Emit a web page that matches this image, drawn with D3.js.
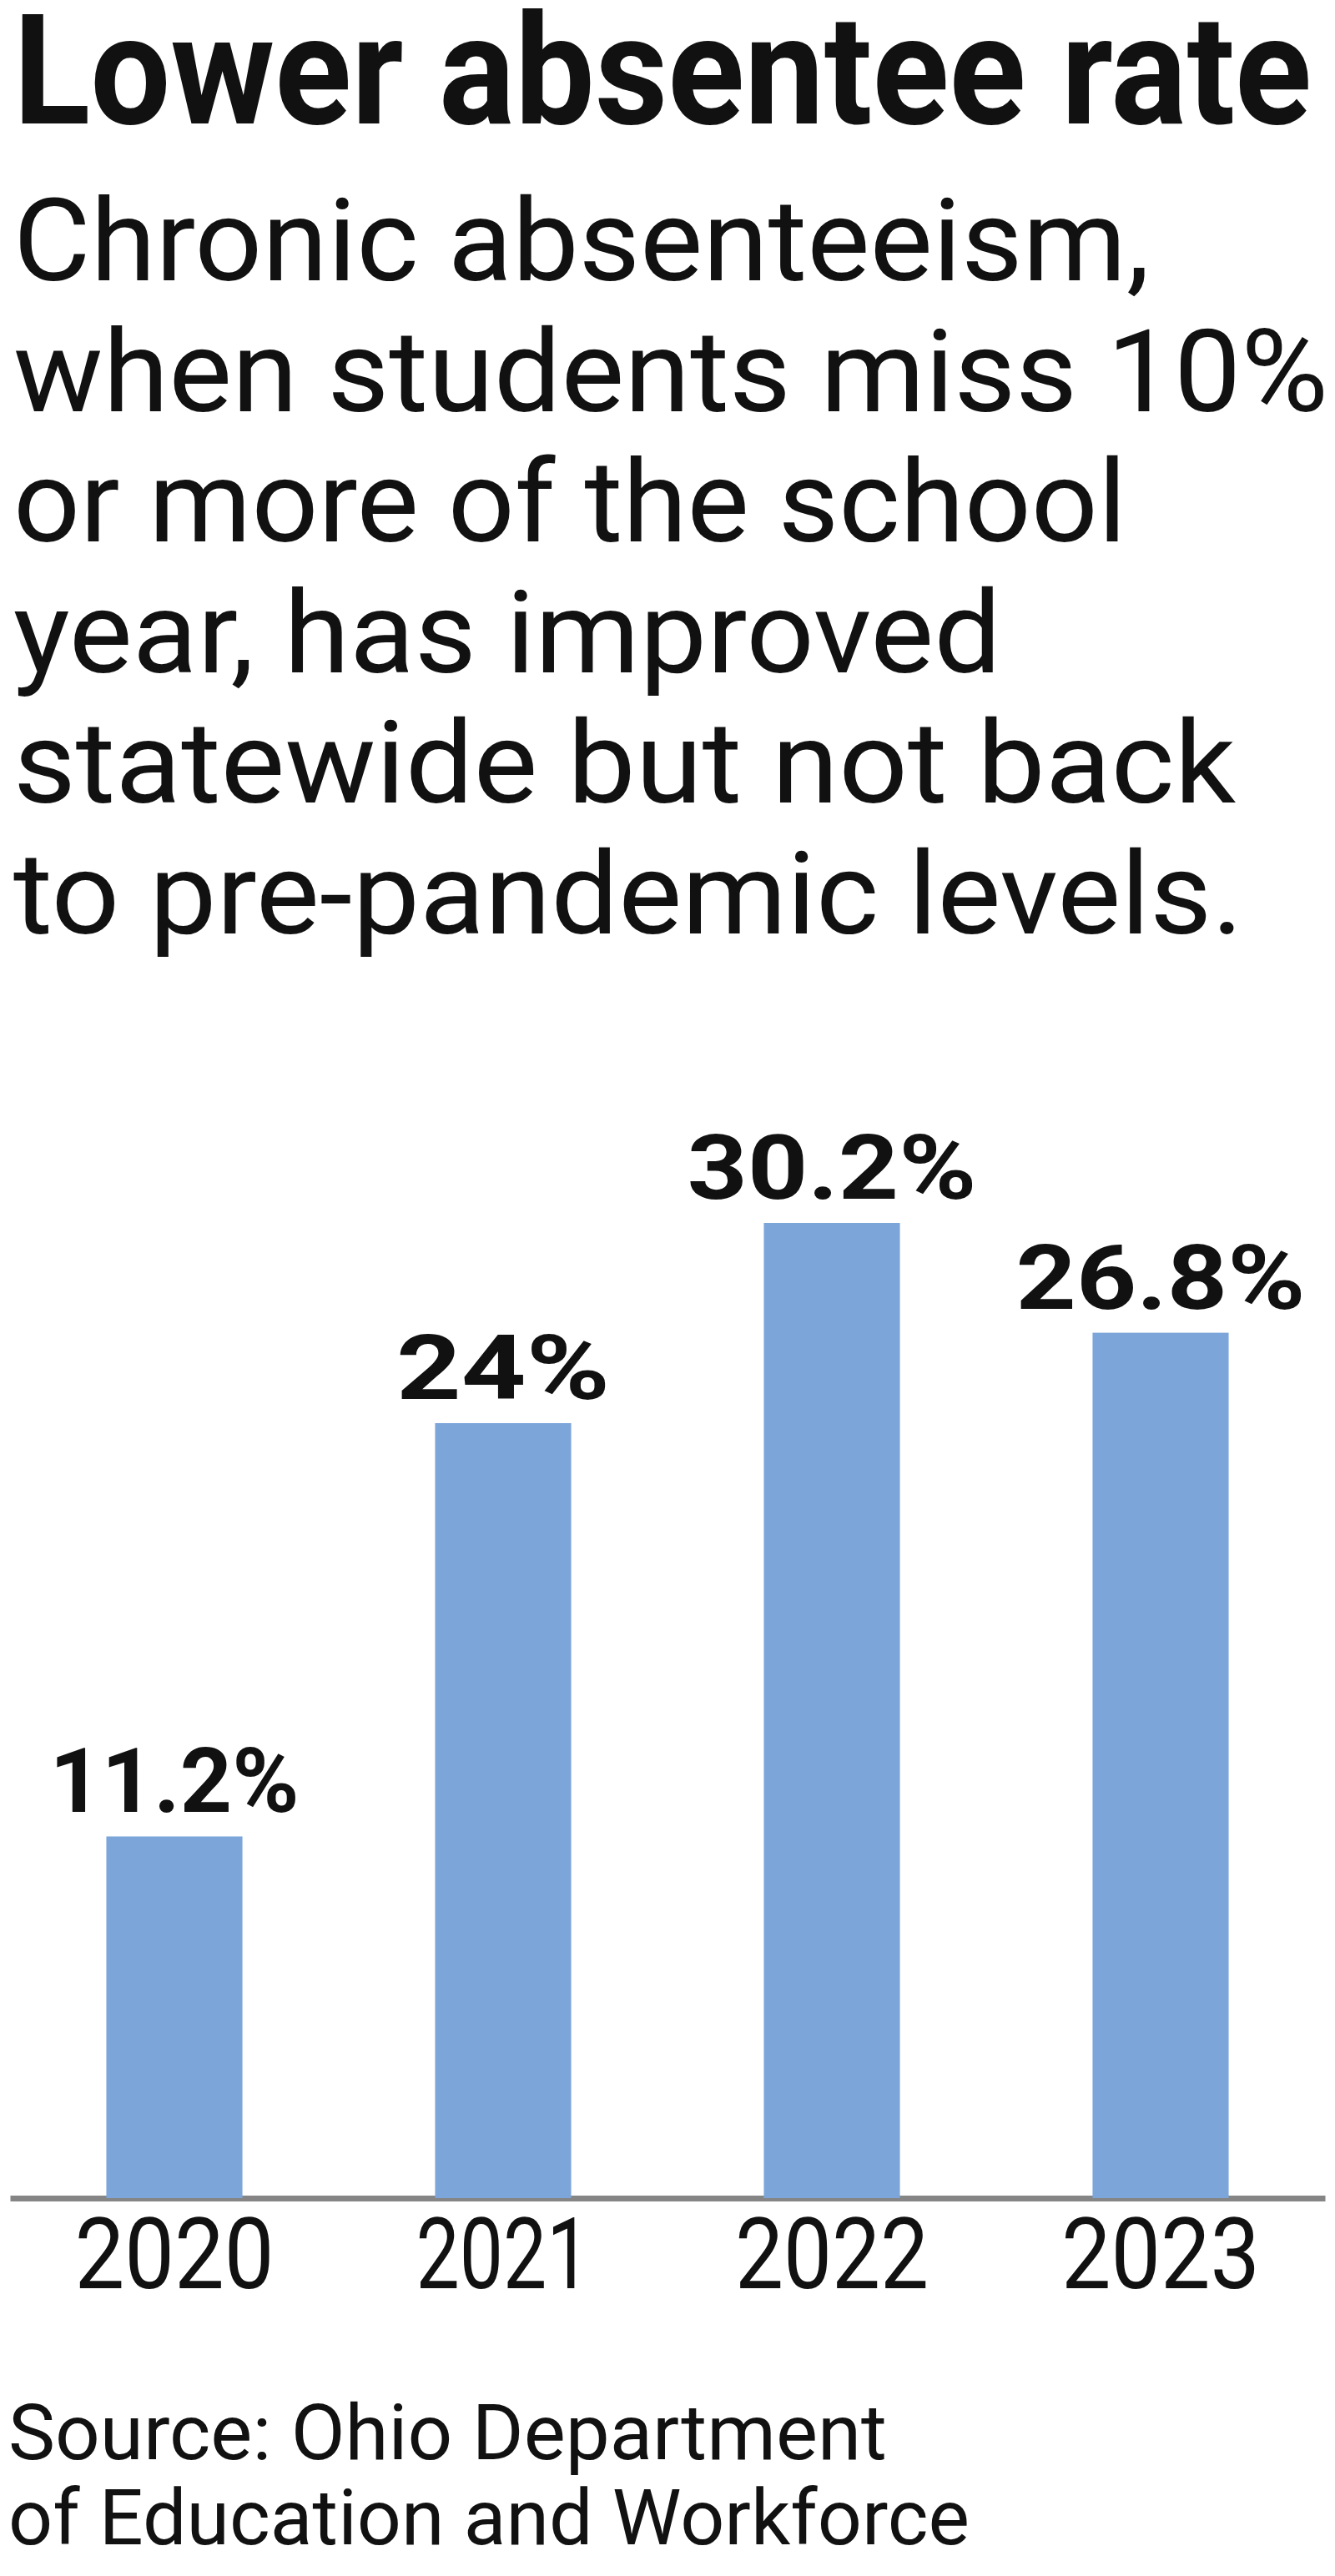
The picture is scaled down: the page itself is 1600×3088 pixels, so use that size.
<!DOCTYPE html>
<html>
<head>
<meta charset="utf-8">
<script src="https://cdn.jsdelivr.net/npm/d3@7"></script>
<style>
  body { margin: 0; background: #fff; }
  svg { display: block; }
</style>
</head>
<body>
<svg id="chart"></svg>
<script>
var titleText = "Lower absentee rate";
var subtitleLines = [
    "Chronic absenteeism,",
    "when students miss 10%",
    "or more of the school",
    "year, has improved",
    "statewide but not back",
    "to pre-pandemic levels."
];
var years = ["2020", "2021", "2022", "2023"];
var rates = [11.2, 24, 30.2, 26.8];
var rateLabels = ["11.2%", "24%", "30.2%", "26.8%"];
var sourceLines = [
    "Source: Ohio Department",
    "of Education and Workforce"
];

var width = 1600, height = 3088;
var fontFamily = "Roboto, 'Noto Sans', sans-serif";

var subtitleWidths = [1362, 1576, 1334, 1184, 1465, 1474];
var labelWidths = [299, 256, 347, 347];
var yearWidths = [239, 209, 232, 238];
var sourceWidths = [1053, 1152];

var svg = d3.select("svg#chart")
    .attr("width", width)
    .attr("height", height)
    .attr("viewBox", "0 0 " + width + " " + height);

svg.append("rect")
    .attr("width", width)
    .attr("height", height)
    .attr("fill", "#fff");

// Title and description
svg.append("text")
    .attr("x", 16)
    .attr("y", 148)
    .attr("textLength", 1556)
    .attr("lengthAdjust", "spacingAndGlyphs")
    .style("font-family", fontFamily)
    .style("font-weight", 700)
    .style("font-size", "183px")
    .style("fill", "#111")
    .text(titleText);

svg.append("g")
    .attr("class", "subtitle")
    .selectAll("text")
    .data(subtitleLines)
    .enter()
    .append("text")
    .attr("x", 16)
    .attr("y", (d, i) => 336 + i * 156.6)
    .attr("textLength", (d, i) => subtitleWidths[i])
    .attr("lengthAdjust", "spacingAndGlyphs")
    .style("font-family", fontFamily)
    .style("font-size", "138px")
    .style("fill", "#111")
    .text(d => d);

// Scales
var baseline = 2635;

var xScale = d3.scaleBand()
    .domain(years)
    .range([12, 1588])
    .paddingInner(0.586)
    .paddingOuter(0.293);

var yScale = d3.scaleLinear()
    .domain([0, d3.max(rates)])
    .range([baseline, 1466]);

var plot = svg.append("g").attr("id", "plot");

// Axis (line + year labels)
var xAxis = plot.append("g")
    .attr("class", "axis axis-x")
    .attr("transform", "translate(0," + baseline + ")")
    .call(d3.axisBottom(xScale).tickSize(0).tickSizeOuter(0));

xAxis.select(".domain")
    .attr("stroke", "#858585")
    .attr("stroke-width", 7);

xAxis.selectAll(".tick text")
    .attr("y", 108)
    .attr("dy", 0)
    .attr("textLength", (d, i) => yearWidths[i])
    .attr("lengthAdjust", "spacingAndGlyphs")
    .style("font-family", fontFamily)
    .style("font-size", "118px")
    .style("fill", "#111");

// Bars drawn over the axis line
plot.append("g")
    .attr("class", "bars")
    .selectAll("rect")
    .data(rates)
    .enter()
    .append("rect")
    .attr("x", (d, i) => xScale(years[i]))
    .attr("y", d => yScale(d))
    .attr("width", xScale.bandwidth())
    .attr("height", d => yScale(0) - yScale(d))
    .attr("fill", "#7ca6d9");

plot.append("g")
    .attr("class", "labels")
    .selectAll("text")
    .data(rates)
    .enter()
    .append("text")
    .attr("x", (d, i) => xScale(years[i]) + xScale.bandwidth() / 2)
    .attr("y", d => yScale(d) - 29)
    .attr("textLength", (d, i) => labelWidths[i])
    .attr("lengthAdjust", "spacingAndGlyphs")
    .style("text-anchor", "middle")
    .style("font-family", fontFamily)
    .style("font-weight", 700)
    .style("font-size", "107px")
    .style("fill", "#111")
    .text((d, i) => rateLabels[i]);

// Source
svg.append("g")
    .attr("class", "source")
    .selectAll("text")
    .data(sourceLines)
    .enter()
    .append("text")
    .attr("x", 10)
    .attr("y", (d, i) => 2948 + i * 102)
    .attr("textLength", (d, i) => sourceWidths[i])
    .attr("lengthAdjust", "spacingAndGlyphs")
    .style("font-family", fontFamily)
    .style("font-size", "93px")
    .style("fill", "#111")
    .text(d => d);
</script>
</body>
</html>
